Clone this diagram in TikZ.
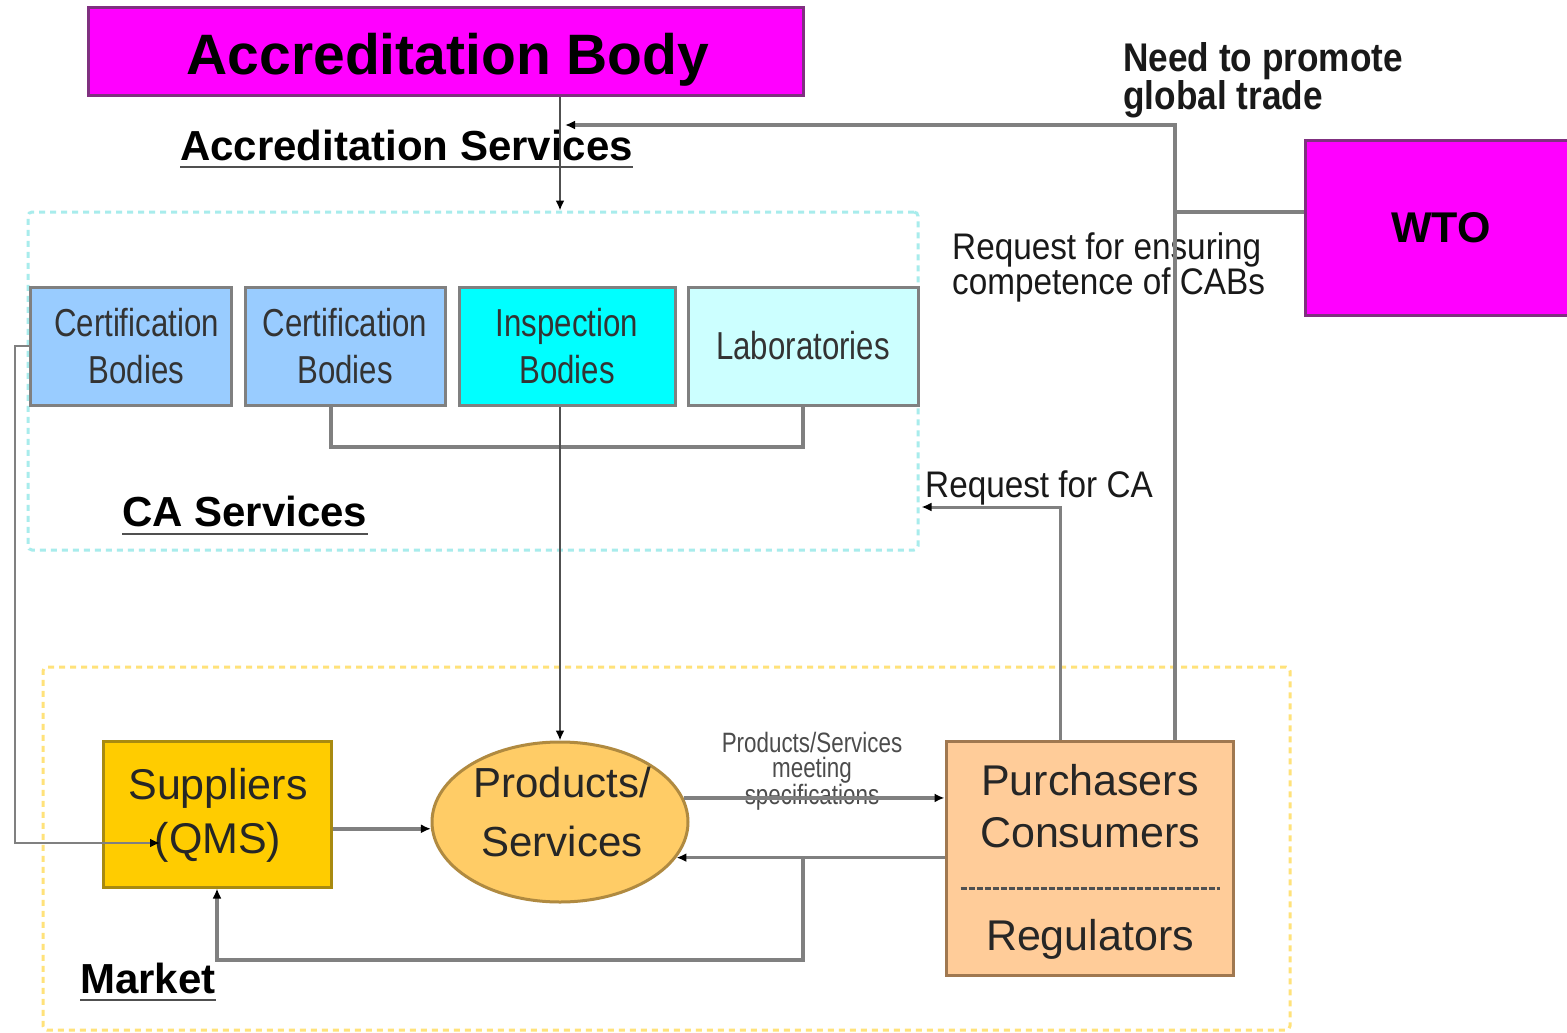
\documentclass[tikz,border=0pt]{standalone}
\usepackage{fontspec}
\setmainfont{Liberation Sans}
\newfontfamily\nar{Liberation Sans}[FakeStretch=0.8]
\newfontfamily\narb{Liberation Sans}[FakeStretch=0.9]
\newfontfamily\narc{Liberation Sans}[FakeStretch=0.88]
\usetikzlibrary{arrows.meta,shapes.geometric}
\definecolor{mag}{HTML}{FF00FF}
\definecolor{magb}{HTML}{803080}
\definecolor{certf}{HTML}{99CCFF}
\definecolor{inspf}{HTML}{00FFFF}
\definecolor{labf}{HTML}{CCFFFF}
\definecolor{suppf}{HTML}{FFCC00}
\definecolor{suppb}{HTML}{A88A10}
\definecolor{prodf}{HTML}{FFCC66}
\definecolor{prodb}{HTML}{B08A40}
\definecolor{purf}{HTML}{FFCC99}
\definecolor{purb}{HTML}{A07850}
\definecolor{cadash}{HTML}{A8ECEC}
\definecolor{mkdash}{HTML}{FFE27A}
\definecolor{lgray}{HTML}{808080}
\definecolor{dgray}{HTML}{505050}
\tikzset{
  cabox/.style={draw=lgray, line width=3pt, inner sep=0pt, align=center, text=black!80,
    font=\nar\fontsize{39}{47}\selectfont},
  btext/.style={inner sep=0pt, align=center, text=black!85, font=\fontsize{43}{54}\selectfont},
  zone/.style={line width=3pt, dash pattern=on 6pt off 5pt, rounded corners=4pt, inner sep=0pt},
  gline/.style={draw=lgray, line width=3.5pt},
  tline/.style={draw=dgray, line width=2.2pt},
  tip/.style={-{Latex[length=10pt,width=9pt,color=black]}},
  lbl/.style={inner sep=0pt, align=left, text=black!90, font=\narb\fontsize{37}{31}\selectfont},
  heading/.style={inner sep=0pt, font=\bfseries\fontsize{42}{48}\selectfont},
  uline/.style={draw=dgray, line width=2.5pt}
}
\begin{document}
\begin{tikzpicture}[x=1pt,y=-1pt]
\useasboundingbox[fill=white] (0,0) rectangle (1567,1033);

% zones
\node[zone, draw=cadash, minimum width=890pt, minimum height=338pt] (ca) at (473,381) {};
\node[zone, draw=mkdash, minimum width=1247pt, minimum height=363pt] (mk) at (666.5,848.5) {};

% top boxes
\node[draw=magb, fill=mag, line width=3pt, minimum width=715pt, minimum height=88pt, inner sep=0pt] (ab) at (445.5,52) {};
\node[inner sep=0pt, anchor=base, font=\bfseries\fontsize{57}{60}\selectfont] (abt) at (448,75) {Accreditation Body};
\node[draw=magb, fill=mag, line width=3pt, minimum width=275pt, minimum height=175pt, inner sep=0pt,
  font=\bfseries\fontsize{43}{48}\selectfont] (wto) at (1442.5,227.5) {\hspace*{-3pt}WTO};

% CA boxes
\node[cabox, fill=certf, minimum width=201pt, minimum height=118pt] (cert1) at (130.5,346) {\hspace*{12pt}Certification\\\hspace*{12pt}Bodies};
\node[cabox, fill=certf, minimum width=200pt, minimum height=118pt] (cert2) at (345,346) {Certification\\Bodies};
\node[cabox, fill=inspf, minimum width=216pt, minimum height=118pt] (insp) at (567,346) {Inspection\\Bodies};
\node[cabox, fill=labf, minimum width=230pt, minimum height=118pt] (lab) at (803,346) {Laboratories};

% market boxes
\node[draw=suppb, fill=suppf, line width=3pt, minimum width=228pt, minimum height=146pt, inner sep=0pt] (supp) at (217,814) {};
\node[btext] (st) at (218,815) {Suppliers\\(QMS)};
\node[ellipse, draw=prodb, fill=prodf, line width=3pt, minimum width=256pt, minimum height=160pt, inner sep=0pt] (ell) at (560,822) {};
\node[btext, font=\fontsize{42}{59}\selectfont] (ps) at (562,812) {Products/\\Services};
\node[draw=purb, fill=purf, line width=3pt, minimum width=287pt, minimum height=234pt, inner sep=0pt] (purch) at (1089.5,858) {};
\node[btext, font=\fontsize{43}{52}\selectfont] (pc) at (1090,806) {Purchasers\\Consumers};
\node[btext] (rg) at (1090,939) {Regulators};
\coordinate (dy) at (0,888);
\draw[dgray, line width=3pt, dash pattern=on 6pt off 2pt] ([xshift=16pt]purch.west |- dy) -- ([xshift=-15pt]purch.east |- dy);

% headings
\node[heading, anchor=base west] (as) at (180,160) {Accreditation Services};
\draw[uline] ([yshift=-7pt]as.base west) -- ([yshift=-7pt]as.base east);
\node[heading, anchor=base west] (cas) at (122,526) {CA Services};
\draw[uline] ([yshift=-8pt]cas.base west) -- ([yshift=-8pt]cas.base east);
\node[heading, anchor=base west] (mkt) at (80,993) {Market};
\draw[uline] ([yshift=-7pt]mkt.base west) -- ([yshift=-7pt]mkt.base east);

% labels
\node[lbl, font=\narc\bfseries\fontsize{40}{32}\selectfont, anchor=north west] (need) at (1123,42) {Need to promote\\global trade};
\node[lbl, anchor=north west] (req) at (952,232) {Request for ensuring\\competence of CABs};
\node[lbl, anchor=base west] (rca) at (925,497) {Request for CA};
\node[inner sep=0pt, align=center, text=black!70, font=\nar\fontsize{28}{25}\selectfont] (pm) at (812,771) {Products/Services\\meeting\\specifications};

% coordinates
\coordinate (tp) at (1175,125);
\coordinate (wy) at (1175,212);
\coordinate (rc) at (1060,507);
\coordinate (b1) at (331,447);
\coordinate (loop) at (803,960);
\coordinate (lx) at (15,843);
\coordinate (lend) at (160,843);

% connectors
\draw[tline, tip] (ell.north |- ab.south) -- (ell.north |- ca.north);
\draw[gline, line width=4pt] (b1 |- cert2.south) -- (b1) -| (lab.south);
\draw[tline, tip] (ell.north |- insp.south) -- (ell.north);
\draw[gline, tip] (purch.north -| tp) -- (tp) -- ([xshift=5pt]ell.north |- tp);
\draw[gline, line width=4pt] (wto.west |- wy) -- (wy);
\draw[gline, line width=3pt, tip] (purch.north -| rc) -- (rc) -- ([xshift=2pt]rc -| ca.east);
\draw[gline, tip] (ell.183 -| supp.east) -- (ell.183);
\draw[gline, tip] (ell.11) -- (ell.11 -| purch.west);
\draw[gline, tip] (ell.-17.5 -| purch.west) -- (ell.-17.5);
\draw[gline, tip] (ell.-17.5 -| loop) -- (loop) -| (supp.south);
\draw[gline, line width=2.8pt, tip] (cert1.west) -- (cert1.west -| lx) -- (lx) -- (lend);
\end{tikzpicture}
\end{document}
